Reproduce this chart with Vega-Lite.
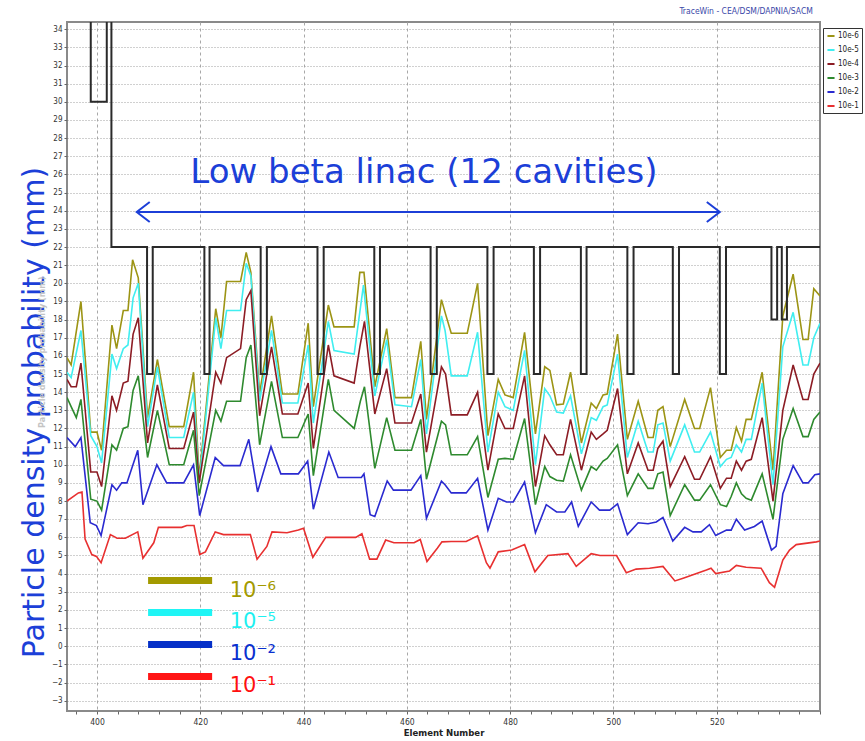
{
"$schema": "https://vega.github.io/schema/vega-lite/v6.json",
"width": 753, "height": 689,
"autosize": {"type": "none"},
"padding": {"left": 67, "top": 22, "right": 45, "bottom": 30},
"background": "#ffffff",
"config": {"view": {"stroke": "#8a8a8a", "strokeWidth": 2}, "font": "DejaVu Sans", "axis": {"labelOverlap": false}},
"datasets": {
"aperture": [
{"i":0,"x":398.8,"y":40},{"i":1,"x":398.8,"y":30},{"i":2,"x":401.9,"y":30},{"i":3,"x":401.9,"y":40},{"i":4,"x":402.8,"y":40},{"i":5,"x":402.8,"y":22},
{"i":6,"x":409.7,"y":22},{"i":7,"x":409.7,"y":15},{"i":8,"x":410.8,"y":15},{"i":9,"x":410.8,"y":22},
{"i":10,"x":420.8,"y":22},{"i":11,"x":420.8,"y":15},{"i":12,"x":421.8,"y":15},{"i":13,"x":421.8,"y":22},
{"i":14,"x":431.7,"y":22},{"i":15,"x":431.7,"y":15},{"i":16,"x":432.9,"y":15},{"i":17,"x":432.9,"y":22},
{"i":18,"x":442.7,"y":22},{"i":19,"x":442.7,"y":15},{"i":20,"x":443.9,"y":15},{"i":21,"x":443.9,"y":22},
{"i":22,"x":453.7,"y":22},{"i":23,"x":453.7,"y":15},{"i":24,"x":454.8,"y":15},{"i":25,"x":454.8,"y":22},
{"i":26,"x":464.6,"y":22},{"i":27,"x":464.6,"y":15},{"i":28,"x":465.8,"y":15},{"i":29,"x":465.8,"y":22},
{"i":30,"x":475.6,"y":22},{"i":31,"x":475.6,"y":15},{"i":32,"x":476.8,"y":15},{"i":33,"x":476.8,"y":22},
{"i":34,"x":484.6,"y":22},{"i":35,"x":484.6,"y":15},{"i":36,"x":485.8,"y":15},{"i":37,"x":485.8,"y":22},
{"i":38,"x":493.7,"y":22},{"i":39,"x":493.7,"y":15},{"i":40,"x":494.8,"y":15},{"i":41,"x":494.8,"y":22},
{"i":42,"x":502.7,"y":22},{"i":43,"x":502.7,"y":15},{"i":44,"x":503.9,"y":15},{"i":45,"x":503.9,"y":22},
{"i":46,"x":511.5,"y":22},{"i":47,"x":511.5,"y":15},{"i":48,"x":512.7,"y":15},{"i":49,"x":512.7,"y":22},
{"i":50,"x":520.6,"y":22},{"i":51,"x":520.6,"y":15},{"i":52,"x":521.8,"y":15},{"i":53,"x":521.8,"y":22},
{"i":54,"x":530.6,"y":22},{"i":55,"x":530.6,"y":18},{"i":56,"x":531.7,"y":18},{"i":57,"x":531.7,"y":22},
{"i":58,"x":532.6,"y":22},{"i":59,"x":532.6,"y":18},{"i":60,"x":533.6,"y":18},{"i":61,"x":533.6,"y":22},
{"i":62,"x":541,"y":22}
],
"curves": [
{"s":"10e-6","x":394.2,"y":15.9},{"s":"10e-6","x":395,"y":15.5},{"s":"10e-6","x":396.9,"y":19.0},{"s":"10e-6","x":398.8,"y":11.8},{"s":"10e-6","x":400,"y":11.8},{"s":"10e-6","x":400.9,"y":10.8},{"s":"10e-6","x":402.9,"y":17.7},{"s":"10e-6","x":403.8,"y":16.4},{"s":"10e-6","x":405.1,"y":18.5},{"s":"10e-6","x":406,"y":18.5},{"s":"10e-6","x":406.9,"y":21.3},{"s":"10e-6","x":408,"y":20.3},{"s":"10e-6","x":409.8,"y":12.6},{"s":"10e-6","x":411.7,"y":15.8},{"s":"10e-6","x":414,"y":12.1},{"s":"10e-6","x":416.8,"y":12.1},{"s":"10e-6","x":418.7,"y":15.1},{"s":"10e-6","x":419.8,"y":9.3},{"s":"10e-6","x":423,"y":18.6},{"s":"10e-6","x":424,"y":17.0},{"s":"10e-6","x":425.1,"y":20.1},{"s":"10e-6","x":427.8,"y":20.1},{"s":"10e-6","x":428.9,"y":21.7},{"s":"10e-6","x":429.8,"y":20.6},{"s":"10e-6","x":431.5,"y":13.9},{"s":"10e-6","x":433.8,"y":18.2},{"s":"10e-6","x":435.9,"y":13.9},{"s":"10e-6","x":438.9,"y":13.9},{"s":"10e-6","x":440.9,"y":17.8},{"s":"10e-6","x":441.9,"y":13.2},{"s":"10e-6","x":444.8,"y":18.8},{"s":"10e-6","x":445.9,"y":17.6},{"s":"10e-6","x":449.8,"y":17.6},{"s":"10e-6","x":450.9,"y":20.6},{"s":"10e-6","x":451.7,"y":20.6},{"s":"10e-6","x":453.8,"y":14.3},{"s":"10e-6","x":456.1,"y":17.5},{"s":"10e-6","x":457.7,"y":13.7},{"s":"10e-6","x":460.9,"y":13.7},{"s":"10e-6","x":462.7,"y":16.8},{"s":"10e-6","x":463.8,"y":12.5},{"s":"10e-6","x":466.7,"y":19.1},{"s":"10e-6","x":467.5,"y":18.3},{"s":"10e-6","x":468.6,"y":17.25},{"s":"10e-6","x":471.7,"y":17.25},{"s":"10e-6","x":473.7,"y":20.0},{"s":"10e-6","x":475.7,"y":11.6},{"s":"10e-6","x":477.7,"y":14.7},{"s":"10e-6","x":479,"y":13.85},{"s":"10e-6","x":480.6,"y":13.7},{"s":"10e-6","x":482.8,"y":17.3},{"s":"10e-6","x":484.9,"y":11.7},{"s":"10e-6","x":486.7,"y":15.4},{"s":"10e-6","x":487.7,"y":15.2},{"s":"10e-6","x":489,"y":13.3},{"s":"10e-6","x":490.3,"y":13.35},{"s":"10e-6","x":491.7,"y":15.1},{"s":"10e-6","x":493.8,"y":11.2},{"s":"10e-6","x":495.7,"y":13.4},{"s":"10e-6","x":496.7,"y":13.1},{"s":"10e-6","x":498,"y":13.85},{"s":"10e-6","x":498.8,"y":13.9},{"s":"10e-6","x":500.8,"y":17.2},{"s":"10e-6","x":502.7,"y":11.4},{"s":"10e-6","x":504.8,"y":13.5},{"s":"10e-6","x":506.7,"y":11.5},{"s":"10e-6","x":507.7,"y":11.5},{"s":"10e-6","x":508.6,"y":13.0},{"s":"10e-6","x":509.6,"y":13.2},{"s":"10e-6","x":511,"y":11.0},{"s":"10e-6","x":513.8,"y":13.6},{"s":"10e-6","x":515.7,"y":12.0},{"s":"10e-6","x":516.7,"y":12.0},{"s":"10e-6","x":518.8,"y":14.25},{"s":"10e-6","x":520.7,"y":10.4},{"s":"10e-6","x":521.9,"y":10.8},{"s":"10e-6","x":522.8,"y":10.8},{"s":"10e-6","x":523.8,"y":12.05},{"s":"10e-6","x":524.8,"y":11.3},{"s":"10e-6","x":525.7,"y":12.5},{"s":"10e-6","x":526.7,"y":12.5},{"s":"10e-6","x":528.8,"y":15.1},{"s":"10e-6","x":530.9,"y":9.7},{"s":"10e-6","x":532.8,"y":18.2},{"s":"10e-6","x":534.8,"y":20.5},{"s":"10e-6","x":536.7,"y":16.9},{"s":"10e-6","x":537.7,"y":16.9},{"s":"10e-6","x":538.8,"y":19.7},{"s":"10e-6","x":540,"y":19.3},

{"s":"10e-5","x":394.2,"y":15.1},{"s":"10e-5","x":395,"y":14.8},{"s":"10e-5","x":396.9,"y":17.4},{"s":"10e-5","x":398.8,"y":11.6},{"s":"10e-5","x":400,"y":11.0},{"s":"10e-5","x":400.9,"y":10.1},{"s":"10e-5","x":402.9,"y":16.1},{"s":"10e-5","x":403.8,"y":15.3},{"s":"10e-5","x":405.1,"y":16.4},{"s":"10e-5","x":406,"y":16.6},{"s":"10e-5","x":407,"y":19.2},{"s":"10e-5","x":408,"y":20.0},{"s":"10e-5","x":409.8,"y":12.1},{"s":"10e-5","x":411.7,"y":15.4},{"s":"10e-5","x":414,"y":11.5},{"s":"10e-5","x":416.8,"y":11.5},{"s":"10e-5","x":418.7,"y":14.0},{"s":"10e-5","x":419.8,"y":9.0},{"s":"10e-5","x":423,"y":18.1},{"s":"10e-5","x":424,"y":16.4},{"s":"10e-5","x":425.1,"y":18.5},{"s":"10e-5","x":427.8,"y":18.5},{"s":"10e-5","x":428.9,"y":21.1},{"s":"10e-5","x":429.8,"y":20.4},{"s":"10e-5","x":431.5,"y":13.5},{"s":"10e-5","x":433.8,"y":17.4},{"s":"10e-5","x":435.9,"y":13.4},{"s":"10e-5","x":438.9,"y":13.4},{"s":"10e-5","x":440.9,"y":16.6},{"s":"10e-5","x":441.9,"y":12.3},{"s":"10e-5","x":444.8,"y":17.9},{"s":"10e-5","x":445.9,"y":16.3},{"s":"10e-5","x":449.8,"y":16.1},{"s":"10e-5","x":451.6,"y":19.9},{"s":"10e-5","x":453.8,"y":13.8},{"s":"10e-5","x":456.1,"y":16.9},{"s":"10e-5","x":457.7,"y":13.3},{"s":"10e-5","x":460.9,"y":13.2},{"s":"10e-5","x":462.7,"y":15.8},{"s":"10e-5","x":463.8,"y":11.7},{"s":"10e-5","x":466.7,"y":18.2},{"s":"10e-5","x":467.4,"y":17.4},{"s":"10e-5","x":468.6,"y":14.9},{"s":"10e-5","x":471.7,"y":14.9},{"s":"10e-5","x":473.7,"y":17.3},{"s":"10e-5","x":475.7,"y":10.7},{"s":"10e-5","x":477.7,"y":14.0},{"s":"10e-5","x":479,"y":13.2},{"s":"10e-5","x":480.6,"y":13.0},{"s":"10e-5","x":482.8,"y":16.3},{"s":"10e-5","x":484.9,"y":10.0},{"s":"10e-5","x":486.7,"y":14.2},{"s":"10e-5","x":487.7,"y":13.8},{"s":"10e-5","x":489,"y":12.9},{"s":"10e-5","x":490.3,"y":12.85},{"s":"10e-5","x":491.7,"y":13.8},{"s":"10e-5","x":493.8,"y":10.6},{"s":"10e-5","x":495.7,"y":12.6},{"s":"10e-5","x":496.7,"y":12.45},{"s":"10e-5","x":498,"y":13.2},{"s":"10e-5","x":498.8,"y":13.3},{"s":"10e-5","x":500.8,"y":16.1},{"s":"10e-5","x":502.7,"y":10.4},{"s":"10e-5","x":504.8,"y":12.4},{"s":"10e-5","x":506.7,"y":10.7},{"s":"10e-5","x":507.7,"y":10.7},{"s":"10e-5","x":508.6,"y":12.2},{"s":"10e-5","x":509.6,"y":12.3},{"s":"10e-5","x":511,"y":10.2},{"s":"10e-5","x":513.8,"y":12.2},{"s":"10e-5","x":515.7,"y":10.7},{"s":"10e-5","x":516.7,"y":10.7},{"s":"10e-5","x":518.8,"y":11.8},{"s":"10e-5","x":520.7,"y":9.9},{"s":"10e-5","x":521.9,"y":10.3},{"s":"10e-5","x":522.8,"y":10.4},{"s":"10e-5","x":523.8,"y":11.1},{"s":"10e-5","x":524.8,"y":10.7},{"s":"10e-5","x":525.7,"y":11.4},{"s":"10e-5","x":526.7,"y":11.4},{"s":"10e-5","x":528.8,"y":14.5},{"s":"10e-5","x":530.9,"y":8.9},{"s":"10e-5","x":532.8,"y":16.5},{"s":"10e-5","x":534.8,"y":18.4},{"s":"10e-5","x":536.7,"y":15.5},{"s":"10e-5","x":537.7,"y":15.5},{"s":"10e-5","x":538.8,"y":17.0},{"s":"10e-5","x":540,"y":17.8},

{"s":"10e-4","x":394.2,"y":14.7},{"s":"10e-4","x":395,"y":14.3},{"s":"10e-4","x":396,"y":14.3},{"s":"10e-4","x":396.9,"y":15.6},{"s":"10e-4","x":398.8,"y":9.6},{"s":"10e-4","x":400,"y":9.6},{"s":"10e-4","x":400.9,"y":8.8},{"s":"10e-4","x":402.9,"y":13.8},{"s":"10e-4","x":403.8,"y":13.0},{"s":"10e-4","x":405.1,"y":14.5},{"s":"10e-4","x":406,"y":14.6},{"s":"10e-4","x":407,"y":17.2},{"s":"10e-4","x":408,"y":18.1},{"s":"10e-4","x":409.8,"y":11.2},{"s":"10e-4","x":411.7,"y":14.4},{"s":"10e-4","x":414,"y":10.9},{"s":"10e-4","x":416.8,"y":10.9},{"s":"10e-4","x":418.7,"y":12.9},{"s":"10e-4","x":419.8,"y":9.0},{"s":"10e-4","x":423,"y":15.1},{"s":"10e-4","x":424,"y":14.5},{"s":"10e-4","x":425.1,"y":15.9},{"s":"10e-4","x":427.8,"y":16.4},{"s":"10e-4","x":428.9,"y":19.1},{"s":"10e-4","x":429.8,"y":19.6},{"s":"10e-4","x":431.5,"y":12.7},{"s":"10e-4","x":433.8,"y":16.5},{"s":"10e-4","x":435.9,"y":12.8},{"s":"10e-4","x":438.9,"y":12.8},{"s":"10e-4","x":440.9,"y":14.5},{"s":"10e-4","x":441.9,"y":10.9},{"s":"10e-4","x":444.8,"y":16.6},{"s":"10e-4","x":445.9,"y":14.9},{"s":"10e-4","x":449.8,"y":14.5},{"s":"10e-4","x":450.9,"y":16.5},{"s":"10e-4","x":451.8,"y":17.9},{"s":"10e-4","x":453.8,"y":12.8},{"s":"10e-4","x":456.1,"y":15.3},{"s":"10e-4","x":457.7,"y":12.3},{"s":"10e-4","x":460.9,"y":12.3},{"s":"10e-4","x":462.7,"y":13.9},{"s":"10e-4","x":463.8,"y":10.7},{"s":"10e-4","x":466.7,"y":15.4},{"s":"10e-4","x":467.5,"y":15.0},{"s":"10e-4","x":468.6,"y":12.75},{"s":"10e-4","x":471.7,"y":12.75},{"s":"10e-4","x":473.7,"y":14.0},{"s":"10e-4","x":475.7,"y":9.7},{"s":"10e-4","x":477.7,"y":12.8},{"s":"10e-4","x":479,"y":12.0},{"s":"10e-4","x":480.6,"y":12.0},{"s":"10e-4","x":482.8,"y":14.9},{"s":"10e-4","x":484.9,"y":8.8},{"s":"10e-4","x":486.7,"y":11.6},{"s":"10e-4","x":487.7,"y":11.1},{"s":"10e-4","x":489,"y":10.55},{"s":"10e-4","x":490.3,"y":10.55},{"s":"10e-4","x":491.7,"y":12.5},{"s":"10e-4","x":493.8,"y":9.7},{"s":"10e-4","x":495.7,"y":11.8},{"s":"10e-4","x":496.7,"y":11.4},{"s":"10e-4","x":498,"y":11.7},{"s":"10e-4","x":498.8,"y":11.9},{"s":"10e-4","x":500.8,"y":14.2},{"s":"10e-4","x":502.7,"y":9.5},{"s":"10e-4","x":504.8,"y":11.2},{"s":"10e-4","x":506.7,"y":9.7},{"s":"10e-4","x":507.7,"y":9.7},{"s":"10e-4","x":508.6,"y":10.9},{"s":"10e-4","x":509.6,"y":11.3},{"s":"10e-4","x":511,"y":8.8},{"s":"10e-4","x":513.8,"y":10.45},{"s":"10e-4","x":515.7,"y":9.2},{"s":"10e-4","x":516.7,"y":9.2},{"s":"10e-4","x":518.8,"y":10.45},{"s":"10e-4","x":520.7,"y":8.7},{"s":"10e-4","x":521.9,"y":9.26},{"s":"10e-4","x":522.8,"y":9.26},{"s":"10e-4","x":523.8,"y":10.2},{"s":"10e-4","x":524.8,"y":9.7},{"s":"10e-4","x":525.7,"y":10.2},{"s":"10e-4","x":526.7,"y":10.3},{"s":"10e-4","x":528.8,"y":12.6},{"s":"10e-4","x":530.9,"y":8.0},{"s":"10e-4","x":532.8,"y":13.0},{"s":"10e-4","x":534.8,"y":15.5},{"s":"10e-4","x":536.7,"y":13.6},{"s":"10e-4","x":537.7,"y":13.6},{"s":"10e-4","x":538.8,"y":15.0},{"s":"10e-4","x":540,"y":15.6},

{"s":"10e-3","x":394.2,"y":13.7},{"s":"10e-3","x":395,"y":13.2},{"s":"10e-3","x":396,"y":12.6},{"s":"10e-3","x":396.9,"y":13.6},{"s":"10e-3","x":398.8,"y":8.1},{"s":"10e-3","x":400,"y":8.0},{"s":"10e-3","x":400.9,"y":7.5},{"s":"10e-3","x":402.9,"y":11.1},{"s":"10e-3","x":403.8,"y":10.8},{"s":"10e-3","x":405.1,"y":12.0},{"s":"10e-3","x":406,"y":12.1},{"s":"10e-3","x":407,"y":14.1},{"s":"10e-3","x":408,"y":14.9},{"s":"10e-3","x":409.8,"y":10.4},{"s":"10e-3","x":411.7,"y":13.0},{"s":"10e-3","x":414,"y":10.0},{"s":"10e-3","x":416.8,"y":10.0},{"s":"10e-3","x":418.7,"y":11.9},{"s":"10e-3","x":419.8,"y":8.3},{"s":"10e-3","x":423,"y":13.0},{"s":"10e-3","x":424,"y":12.4},{"s":"10e-3","x":425.1,"y":13.5},{"s":"10e-3","x":427.8,"y":13.5},{"s":"10e-3","x":428.9,"y":15.9},{"s":"10e-3","x":429.8,"y":16.6},{"s":"10e-3","x":431.5,"y":11.1},{"s":"10e-3","x":433.8,"y":14.6},{"s":"10e-3","x":435.9,"y":11.5},{"s":"10e-3","x":438.9,"y":11.5},{"s":"10e-3","x":440.9,"y":12.8},{"s":"10e-3","x":441.9,"y":9.4},{"s":"10e-3","x":444.8,"y":14.7},{"s":"10e-3","x":445.9,"y":13.0},{"s":"10e-3","x":449.8,"y":12.0},{"s":"10e-3","x":451,"y":13.5},{"s":"10e-3","x":451.8,"y":14.3},{"s":"10e-3","x":453.8,"y":9.8},{"s":"10e-3","x":456.1,"y":12.6},{"s":"10e-3","x":457.7,"y":10.8},{"s":"10e-3","x":460.9,"y":10.8},{"s":"10e-3","x":462.7,"y":12.5},{"s":"10e-3","x":463.8,"y":9.2},{"s":"10e-3","x":466.7,"y":12.4},{"s":"10e-3","x":467.5,"y":12.2},{"s":"10e-3","x":468.6,"y":10.55},{"s":"10e-3","x":471.7,"y":10.55},{"s":"10e-3","x":473.7,"y":11.55},{"s":"10e-3","x":475.7,"y":8.2},{"s":"10e-3","x":477.7,"y":10.3},{"s":"10e-3","x":479,"y":10.35},{"s":"10e-3","x":480.6,"y":10.3},{"s":"10e-3","x":482.8,"y":12.55},{"s":"10e-3","x":484.9,"y":7.8},{"s":"10e-3","x":486.7,"y":9.9},{"s":"10e-3","x":487.7,"y":9.35},{"s":"10e-3","x":489,"y":9.15},{"s":"10e-3","x":490.3,"y":9.1},{"s":"10e-3","x":491.7,"y":10.55},{"s":"10e-3","x":493.8,"y":8.6},{"s":"10e-3","x":495.7,"y":9.9},{"s":"10e-3","x":496.7,"y":9.7},{"s":"10e-3","x":498,"y":10.2},{"s":"10e-3","x":498.8,"y":10.35},{"s":"10e-3","x":500.8,"y":11.1},{"s":"10e-3","x":502.7,"y":8.3},{"s":"10e-3","x":504.8,"y":9.5},{"s":"10e-3","x":506.7,"y":8.7},{"s":"10e-3","x":507.7,"y":8.7},{"s":"10e-3","x":508.6,"y":9.5},{"s":"10e-3","x":509.6,"y":9.6},{"s":"10e-3","x":511,"y":7.2},{"s":"10e-3","x":513.8,"y":8.9},{"s":"10e-3","x":515.7,"y":8.05},{"s":"10e-3","x":516.7,"y":8.05},{"s":"10e-3","x":518.8,"y":8.9},{"s":"10e-3","x":520.7,"y":7.8},{"s":"10e-3","x":521.9,"y":7.7},{"s":"10e-3","x":522.8,"y":8.25},{"s":"10e-3","x":523.8,"y":9.0},{"s":"10e-3","x":524.8,"y":8.4},{"s":"10e-3","x":525.7,"y":8.15},{"s":"10e-3","x":526.7,"y":8.05},{"s":"10e-3","x":528.8,"y":9.5},{"s":"10e-3","x":530.9,"y":7.0},{"s":"10e-3","x":532.8,"y":11.4},{"s":"10e-3","x":534.8,"y":13.1},{"s":"10e-3","x":536.7,"y":11.55},{"s":"10e-3","x":537.7,"y":11.55},{"s":"10e-3","x":538.8,"y":12.5},{"s":"10e-3","x":540,"y":12.9},

{"s":"10e-2","x":394.2,"y":11.5},{"s":"10e-2","x":395.8,"y":11.0},{"s":"10e-2","x":396.9,"y":11.5},{"s":"10e-2","x":398.7,"y":6.8},{"s":"10e-2","x":399.9,"y":6.65},{"s":"10e-2","x":400.8,"y":6.1},{"s":"10e-2","x":402.9,"y":8.9},{"s":"10e-2","x":403.8,"y":8.6},{"s":"10e-2","x":404.8,"y":9.0},{"s":"10e-2","x":405.8,"y":9.0},{"s":"10e-2","x":407.9,"y":10.8},{"s":"10e-2","x":408.9,"y":7.8},{"s":"10e-2","x":411.6,"y":10.0},{"s":"10e-2","x":413.5,"y":9.0},{"s":"10e-2","x":416.8,"y":9.0},{"s":"10e-2","x":418.7,"y":10.0},{"s":"10e-2","x":419.9,"y":7.2},{"s":"10e-2","x":422.9,"y":10.4},{"s":"10e-2","x":424.5,"y":9.95},{"s":"10e-2","x":427.7,"y":9.95},{"s":"10e-2","x":429.4,"y":11.4},{"s":"10e-2","x":431.1,"y":8.5},{"s":"10e-2","x":433.7,"y":11.0},{"s":"10e-2","x":435.6,"y":9.5},{"s":"10e-2","x":439,"y":9.5},{"s":"10e-2","x":440.8,"y":10.2},{"s":"10e-2","x":441.9,"y":7.55},{"s":"10e-2","x":444.9,"y":10.7},{"s":"10e-2","x":446.7,"y":9.3},{"s":"10e-2","x":451.2,"y":9.3},{"s":"10e-2","x":451.7,"y":9.5},{"s":"10e-2","x":452.9,"y":7.25},{"s":"10e-2","x":453.8,"y":7.15},{"s":"10e-2","x":456.2,"y":9.1},{"s":"10e-2","x":457.4,"y":8.6},{"s":"10e-2","x":460.8,"y":8.6},{"s":"10e-2","x":462.7,"y":9.4},{"s":"10e-2","x":463.8,"y":7.05},{"s":"10e-2","x":466.7,"y":9.1},{"s":"10e-2","x":467.4,"y":8.9},{"s":"10e-2","x":468.6,"y":8.45},{"s":"10e-2","x":471.5,"y":8.45},{"s":"10e-2","x":473.7,"y":9.25},{"s":"10e-2","x":475.7,"y":6.4},{"s":"10e-2","x":477.7,"y":8.15},{"s":"10e-2","x":479.3,"y":7.95},{"s":"10e-2","x":480.6,"y":7.95},{"s":"10e-2","x":482.8,"y":9.05},{"s":"10e-2","x":484.9,"y":6.25},{"s":"10e-2","x":487,"y":7.8},{"s":"10e-2","x":489,"y":7.4},{"s":"10e-2","x":490.6,"y":7.4},{"s":"10e-2","x":491.9,"y":7.95},{"s":"10e-2","x":493.2,"y":6.6},{"s":"10e-2","x":495.7,"y":7.95},{"s":"10e-2","x":497.3,"y":7.5},{"s":"10e-2","x":499.3,"y":7.5},{"s":"10e-2","x":500.8,"y":7.85},{"s":"10e-2","x":502.7,"y":6.15},{"s":"10e-2","x":504.8,"y":6.8},{"s":"10e-2","x":506.7,"y":6.75},{"s":"10e-2","x":508.3,"y":6.85},{"s":"10e-2","x":509.6,"y":7.1},{"s":"10e-2","x":511.5,"y":5.8},{"s":"10e-2","x":513.8,"y":6.55},{"s":"10e-2","x":515.4,"y":6.3},{"s":"10e-2","x":517,"y":6.3},{"s":"10e-2","x":518.6,"y":6.7},{"s":"10e-2","x":519.8,"y":6.1},{"s":"10e-2","x":521.9,"y":6.4},{"s":"10e-2","x":522.8,"y":6.4},{"s":"10e-2","x":523.8,"y":7.0},{"s":"10e-2","x":525.4,"y":6.4},{"s":"10e-2","x":527.3,"y":6.6},{"s":"10e-2","x":528.8,"y":6.9},{"s":"10e-2","x":530.6,"y":5.3},{"s":"10e-2","x":531.5,"y":5.5},{"s":"10e-2","x":532.8,"y":8.4},{"s":"10e-2","x":534.8,"y":9.95},{"s":"10e-2","x":536.7,"y":9.0},{"s":"10e-2","x":537.7,"y":9.0},{"s":"10e-2","x":539,"y":9.45},{"s":"10e-2","x":540,"y":9.5},

{"s":"10e-1","x":394.2,"y":8.0},{"s":"10e-1","x":396.4,"y":8.45},{"s":"10e-1","x":397.1,"y":8.5},{"s":"10e-1","x":397.7,"y":5.9},{"s":"10e-1","x":399,"y":5.05},{"s":"10e-1","x":399.9,"y":4.95},{"s":"10e-1","x":400.8,"y":4.6},{"s":"10e-1","x":402.6,"y":6.15},{"s":"10e-1","x":403.9,"y":5.95},{"s":"10e-1","x":405.5,"y":5.95},{"s":"10e-1","x":407.9,"y":6.3},{"s":"10e-1","x":408.9,"y":4.85},{"s":"10e-1","x":411,"y":5.7},{"s":"10e-1","x":411.9,"y":6.55},{"s":"10e-1","x":416.4,"y":6.55},{"s":"10e-1","x":417.4,"y":6.65},{"s":"10e-1","x":418.8,"y":6.65},{"s":"10e-1","x":419.9,"y":5.05},{"s":"10e-1","x":421,"y":5.2},{"s":"10e-1","x":422.9,"y":6.3},{"s":"10e-1","x":424.5,"y":6.15},{"s":"10e-1","x":429.7,"y":6.15},{"s":"10e-1","x":431,"y":4.8},{"s":"10e-1","x":432.9,"y":5.5},{"s":"10e-1","x":433.9,"y":6.3},{"s":"10e-1","x":436.8,"y":6.25},{"s":"10e-1","x":439,"y":6.4},{"s":"10e-1","x":440,"y":6.5},{"s":"10e-1","x":441.8,"y":4.9},{"s":"10e-1","x":444.3,"y":6.0},{"s":"10e-1","x":450.1,"y":6.0},{"s":"10e-1","x":451.3,"y":6.2},{"s":"10e-1","x":452.8,"y":4.8},{"s":"10e-1","x":454.2,"y":4.8},{"s":"10e-1","x":455.9,"y":5.85},{"s":"10e-1","x":457.5,"y":5.7},{"s":"10e-1","x":461.4,"y":5.7},{"s":"10e-1","x":462.6,"y":5.88},{"s":"10e-1","x":463.9,"y":4.67},{"s":"10e-1","x":465.9,"y":5.4},{"s":"10e-1","x":466.8,"y":5.75},{"s":"10e-1","x":468.6,"y":5.77},{"s":"10e-1","x":471.5,"y":5.77},{"s":"10e-1","x":473.7,"y":6.08},{"s":"10e-1","x":475.4,"y":4.6},{"s":"10e-1","x":476.1,"y":4.3},{"s":"10e-1","x":477.7,"y":5.2},{"s":"10e-1","x":480.3,"y":5.3},{"s":"10e-1","x":482.8,"y":5.6},{"s":"10e-1","x":484.8,"y":4.1},{"s":"10e-1","x":487.3,"y":5.0},{"s":"10e-1","x":491.2,"y":5.1},{"s":"10e-1","x":492.8,"y":4.4},{"s":"10e-1","x":495.7,"y":5.1},{"s":"10e-1","x":497.4,"y":5.0},{"s":"10e-1","x":500.6,"y":5.0},{"s":"10e-1","x":502.5,"y":4.05},{"s":"10e-1","x":504.4,"y":4.25},{"s":"10e-1","x":507,"y":4.3},{"s":"10e-1","x":509.6,"y":4.4},{"s":"10e-1","x":511.9,"y":3.6},{"s":"10e-1","x":513.5,"y":3.75},{"s":"10e-1","x":518,"y":4.2},{"s":"10e-1","x":518.9,"y":4.3},{"s":"10e-1","x":519.8,"y":4.0},{"s":"10e-1","x":522.5,"y":4.15},{"s":"10e-1","x":523.8,"y":4.45},{"s":"10e-1","x":525.7,"y":4.35},{"s":"10e-1","x":528.6,"y":4.3},{"s":"10e-1","x":530.2,"y":3.5},{"s":"10e-1","x":531.2,"y":3.25},{"s":"10e-1","x":532.8,"y":4.75},{"s":"10e-1","x":534.1,"y":5.3},{"s":"10e-1","x":535.4,"y":5.6},{"s":"10e-1","x":539.3,"y":5.75},{"s":"10e-1","x":540,"y":5.8}
]
},
"layer": [
{
"data": {"name": "curves"},
"mark": {"type": "line", "strokeWidth": 1.6, "clip": true},
"encoding": {
"x": {"field": "x", "type": "quantitative",
 "scale": {"domain": [394.2, 540], "nice": false, "zero": false},
 "axis": {"title": "Element Number",
  "values": [396,400,404,408,412,416,420,424,428,432,436,440,444,448,452,456,460,464,468,472,476,480,484,488,492,496,500,504,508,512,516,520,524,528,532,536,540],
  "tickCount": 200, "format": "d",
  "labelExpr": "(datum.value % 20 == 0 && datum.value < 530) ? datum.label : ''",
  "labelOverlap": false,
  "grid": true, "gridColor": "#a8a8a8", "gridDash": [3, 3],
  "gridOpacity": {"condition": {"test": "datum.value % 20 == 0 && datum.value < 530", "value": 1}, "value": 0},
  "domain": false, "tickColor": "#666666", "tickSize": 3,
  "labelFont": "DejaVu Sans Condensed, Liberation Sans, sans-serif", "labelFontSize": 8.5, "labelColor": "#333333", "labelPadding": 3,
  "titleFont": "DejaVu Sans Condensed, Liberation Sans, sans-serif", "titleFontSize": 9.5, "titleFontWeight": "bold", "titleColor": "#222222", "titlePadding": 2}},
"y": {"field": "y", "type": "quantitative",
 "scale": {"domain": [-3.57, 34.4], "nice": false, "zero": false},
 "axis": {"title": "Particle density probability (mm)",
  "values": [-3,-2,-1,0,1,2,3,4,5,6,7,8,9,10,11,12,13,14,15,16,17,18,19,20,21,22,23,24,25,26,27,28,29,30,31,32,33,34],
  "tickCount": 200, "format": "d",
  "labelOverlap": false,
  "grid": true, "gridColor": "#a0a0a0", "gridDash": [1, 2], "gridWidth": 1,
  "domain": false, "tickColor": "#666666", "tickSize": 3,
  "labelFont": "DejaVu Sans Condensed, Liberation Sans, sans-serif", "labelFontSize": 8, "labelColor": "#333333", "labelPadding": 2,
  "titleFont": "DejaVu Sans", "titleFontSize": 30, "titleFontWeight": "normal", "titleColor": "#1c3fd8",
  "titleAngle": 270, "titleX": -24, "titleY": 390, "titleAlign": "center", "titleBaseline": "alphabetic"}},
"color": {"field": "s", "type": "nominal",
 "scale": {"domain": ["10e-6","10e-5","10e-4","10e-3","10e-2","10e-1"],
  "range": ["#9c9414","#40eef0","#8c1c24","#2e8a2e","#2a2ad0","#e83030"]},
 "legend": {"orient": "none", "legendX": 756, "legendY": 6, "title": null,
  "symbolType": "stroke", "symbolStrokeWidth": 2, "symbolSize": 50,
  "labelFont": "DejaVu Sans Condensed, Liberation Sans, sans-serif", "labelFontSize": 8, "labelColor": "#222222", "labelOffset": 2,
  "fillColor": "#ffffff", "strokeColor": "#333333", "padding": 3, "rowPadding": 5}}
}
},
{
"data": {"name": "aperture"},
"mark": {"type": "line", "color": "#2a2a2a", "strokeWidth": 2, "clip": true},
"encoding": {
"x": {"field": "x", "type": "quantitative"},
"y": {"field": "y", "type": "quantitative"},
"order": {"field": "i", "type": "quantitative"}
}
},
{
"data": {"values": [{}]},
"mark": {"type": "text", "text": "Particle density probability (mm)", "angle": 270, "font": "DejaVu Sans Condensed, Liberation Sans, sans-serif", "fontSize": 9, "fontWeight": "bold", "color": "#c4c4c4", "align": "center", "baseline": "middle"},
"encoding": {"x": {"datum": 389.3}, "y": {"datum": 16.2}}
},
{
"data": {"values": [{}]},
"mark": {"type": "text", "text": "Low beta linac (12 cavities)", "font": "DejaVu Sans", "fontSize": 34, "color": "#1c3fd8", "align": "center", "baseline": "alphabetic"},
"encoding": {"x": {"datum": 463.3}, "y": {"datum": 25.5}}
},
{
"data": {"values": [{}]},
"mark": {"type": "rule", "color": "#1c3fd8", "strokeWidth": 2},
"encoding": {"x": {"datum": 407.8}, "x2": {"datum": 520.5}, "y": {"datum": 23.93}}
},
{
"data": {"values": [{}]},
"mark": {"type": "point", "shape": "M 1.3 -1 L 0 0 L 1.3 1", "size": 400, "filled": false, "color": "#1c3fd8", "strokeWidth": 2, "opacity": 1},
"encoding": {"x": {"datum": 407.7}, "y": {"datum": 23.93}}
},
{
"data": {"values": [{}]},
"mark": {"type": "point", "shape": "M -1.3 -1 L 0 0 L -1.3 1", "size": 400, "filled": false, "color": "#1c3fd8", "strokeWidth": 2, "opacity": 1},
"encoding": {"x": {"datum": 520.6}, "y": {"datum": 23.93}}
},
{
"data": {"values": [{}]},
"mark": {"type": "rule", "color": "#a39a00", "strokeWidth": 7},
"encoding": {"x": {"datum": 409.9}, "x2": {"datum": 422.3}, "y": {"datum": 3.62}}
},
{
"data": {"values": [{}]},
"mark": {"type": "rule", "color": "#1ff5f5", "strokeWidth": 7},
"encoding": {"x": {"datum": 409.9}, "x2": {"datum": 422.3}, "y": {"datum": 1.86}}
},
{
"data": {"values": [{}]},
"mark": {"type": "rule", "color": "#0530c8", "strokeWidth": 7},
"encoding": {"x": {"datum": 409.9}, "x2": {"datum": 422.3}, "y": {"datum": 0.09}}
},
{
"data": {"values": [{}]},
"mark": {"type": "rule", "color": "#ff1515", "strokeWidth": 7},
"encoding": {"x": {"datum": 409.9}, "x2": {"datum": 422.3}, "y": {"datum": -1.67}}
},
{
"data": {"values": [{}]},
"mark": {"type": "text", "text": "10⁻⁶", "font": "DejaVu Sans", "fontSize": 21, "color": "#a39a00", "align": "left", "baseline": "alphabetic"},
"encoding": {"x": {"datum": 425.7}, "y": {"datum": 2.73}}
},
{
"data": {"values": [{}]},
"mark": {"type": "text", "text": "10⁻⁵", "font": "DejaVu Sans", "fontSize": 21, "color": "#1ff0f0", "align": "left", "baseline": "alphabetic"},
"encoding": {"x": {"datum": 425.7}, "y": {"datum": 1.02}}
},
{
"data": {"values": [{}]},
"mark": {"type": "text", "text": "10⁻²", "font": "DejaVu Sans", "fontSize": 21, "color": "#0a30d0", "align": "left", "baseline": "alphabetic"},
"encoding": {"x": {"datum": 425.7}, "y": {"datum": -0.74}}
},
{
"data": {"values": [{}]},
"mark": {"type": "text", "text": "10⁻¹", "font": "DejaVu Sans", "fontSize": 21, "color": "#ff1010", "align": "left", "baseline": "alphabetic"},
"encoding": {"x": {"datum": 425.7}, "y": {"datum": -2.5}}
},
{
"data": {"values": [{}]},
"mark": {"type": "text", "text": "TraceWin - CEA/DSM/DAPNIA/SACM", "font": "DejaVu Sans Condensed, Liberation Sans, sans-serif", "fontSize": 8.5, "color": "#3a48a8", "align": "center", "baseline": "middle"},
"encoding": {"x": {"datum": 525.7}, "y": {"datum": 35.0}}
}
]
}
